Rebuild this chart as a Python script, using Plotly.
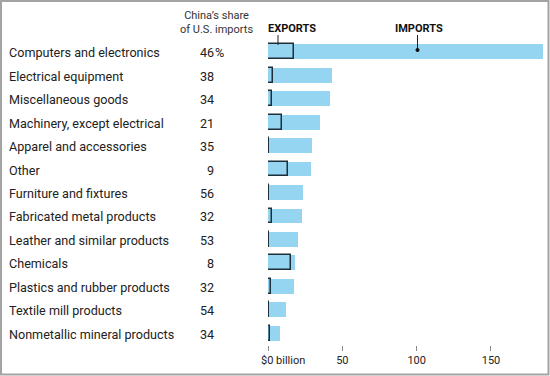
import plotly.graph_objects as go

categories = [
    "Computers and electronics", "Electrical equipment", "Miscellaneous goods",
    "Machinery, except electrical", "Apparel and accessories", "Other",
    "Furniture and fixtures", "Fabricated metal products", "Leather and similar products",
    "Chemicals", "Plastics and rubber products", "Textile mill products",
    "Nonmetallic mineral products",
]
china_share = [46, 38, 34, 21, 35, 9, 56, 32, 53, 8, 32, 54, 34]
imports = [184.8, 43.2, 41.9, 34.9, 29.5, 29.1, 23.7, 22.6, 20.1, 18.1, 17.2, 11.9, 7.8]
exports = [17.2, 3.4, 3.0, 9.4, 0.6, 13.6, 0.6, 2.7, 0.6, 15.4, 2.2, 0.6, 1.5]
tick_vals = [0, 50, 100, 150]
tick_text = ["", "50", "100", "150"]

W, H = 550, 376
ML, MR, MT, MB = 268, 7, 40, 31
PW, PH = W - ML - MR, H - MT - MB

def px_x(px):
    return (px - ML) / PW

def px_y(py):
    return (H - MB - py) / PH

BLUE = "#95d5f1"
DARK = "#222222"
FONT = "Roboto, Liberation Sans, Arial, sans-serif"
LSIZE = 12.6

fig = go.Figure()
fig.add_trace(go.Bar(
    y=categories, x=imports, orientation="h", width=0.63,
    marker=dict(color=BLUE, line=dict(width=0)), hoverinfo="x+y", name="Imports",
))
fig.add_trace(go.Bar(
    y=categories, x=exports, orientation="h", width=0.63,
    marker=dict(color=BLUE, line=dict(color="#1f2f3a", width=1.5)), name="Exports",
))

ann = []
for c, s in zip(categories, china_share):
    ann.append(dict(x=px_x(7), xref="paper", y=c, yref="y", text=c, showarrow=False,
                    xanchor="left", yanchor="middle", yshift=-1,
                    font=dict(family=FONT, size=LSIZE, color=DARK)))
    ann.append(dict(x=px_x(216), xref="paper", y=c, yref="y", text=str(s), showarrow=False,
                    xanchor="right", yanchor="middle", yshift=-1,
                    font=dict(family=FONT, size=LSIZE, color=DARK)))
ann.append(dict(x=px_x(214), xref="paper", y=categories[0], yref="y", text="%", showarrow=False,
                xanchor="left", yanchor="middle", xshift=-1, yshift=-1,
                font=dict(family=FONT, size=LSIZE, color=DARK)))
ann.append(dict(x=px_x(216), xref="paper", y=px_y(22), yref="paper",
                text="China’s share<br>of U.S. imports", showarrow=False,
                xanchor="center", yanchor="middle", align="center",
                font=dict(family=FONT, size=11, color="#333")))
ann.append(dict(x=px_x(266), xref="paper", y=px_y(28), yref="paper",
                text="<b>EXPORTS</b>", showarrow=False, xanchor="left", yanchor="middle",
                font=dict(family=FONT, size=11, color="#111")))
ann.append(dict(x=px_x(419), xref="paper", y=px_y(28), yref="paper",
                text="<b>IMPORTS</b>", showarrow=False, xanchor="center", yanchor="middle",
                font=dict(family=FONT, size=11, color="#111")))
ann.append(dict(x=0, xref="x", y=px_y(360), yref="paper", xshift=-9,
                text="$0 billion", showarrow=False, xanchor="left", yanchor="middle",
                font=dict(family=FONT, size=11, color=DARK)))

shapes = [
    dict(type="rect", xref="paper", yref="paper",
         x0=px_x(1), x1=px_x(548.5), y0=px_y(374.5), y1=px_y(1),
         line=dict(color="#a3a3a3", width=2), fillcolor="rgba(0,0,0,0)", layer="above"),
    dict(type="line", xref="paper", yref="paper",
         x0=px_x(278), x1=px_x(278), y0=px_y(35), y1=px_y(45),
         line=dict(color="#222", width=1)),
    dict(type="line", xref="paper", yref="paper",
         x0=px_x(417.5), x1=px_x(417.5), y0=px_y(35), y1=px_y(50),
         line=dict(color="#222", width=1), layer="above"),
    dict(type="circle", xref="paper", yref="paper",
         x0=px_x(415.5), x1=px_x(419.5), y0=px_y(52), y1=px_y(48),
         fillcolor="#111", line=dict(width=0), layer="above"),
]

fig.update_layout(
    width=W, height=H, margin=dict(l=ML, r=MR, t=MT, b=MB),
    paper_bgcolor="white", plot_bgcolor="white",
    barmode="overlay", showlegend=False, bargap=0,
    font=dict(family=FONT, size=11, color=DARK),
    xaxis=dict(range=[0, 185], tickvals=tick_vals, ticktext=tick_text,
               ticks="outside", ticklen=5, tickcolor="#888", tickwidth=1,
               showgrid=False, zeroline=False, showline=False,
               tickfont=dict(family=FONT, size=11, color=DARK), fixedrange=True),
    yaxis=dict(categoryorder="array", categoryarray=categories, autorange="reversed",
               showticklabels=False, showgrid=False, zeroline=False, showline=False,
               ticks="", fixedrange=True),
    annotations=ann, shapes=shapes,
)

fig.write_html(
    "out.html",
    config={"displayModeBar": False},
    post_script="document.body.style.margin='0';document.body.style.overflow='hidden';",
)
